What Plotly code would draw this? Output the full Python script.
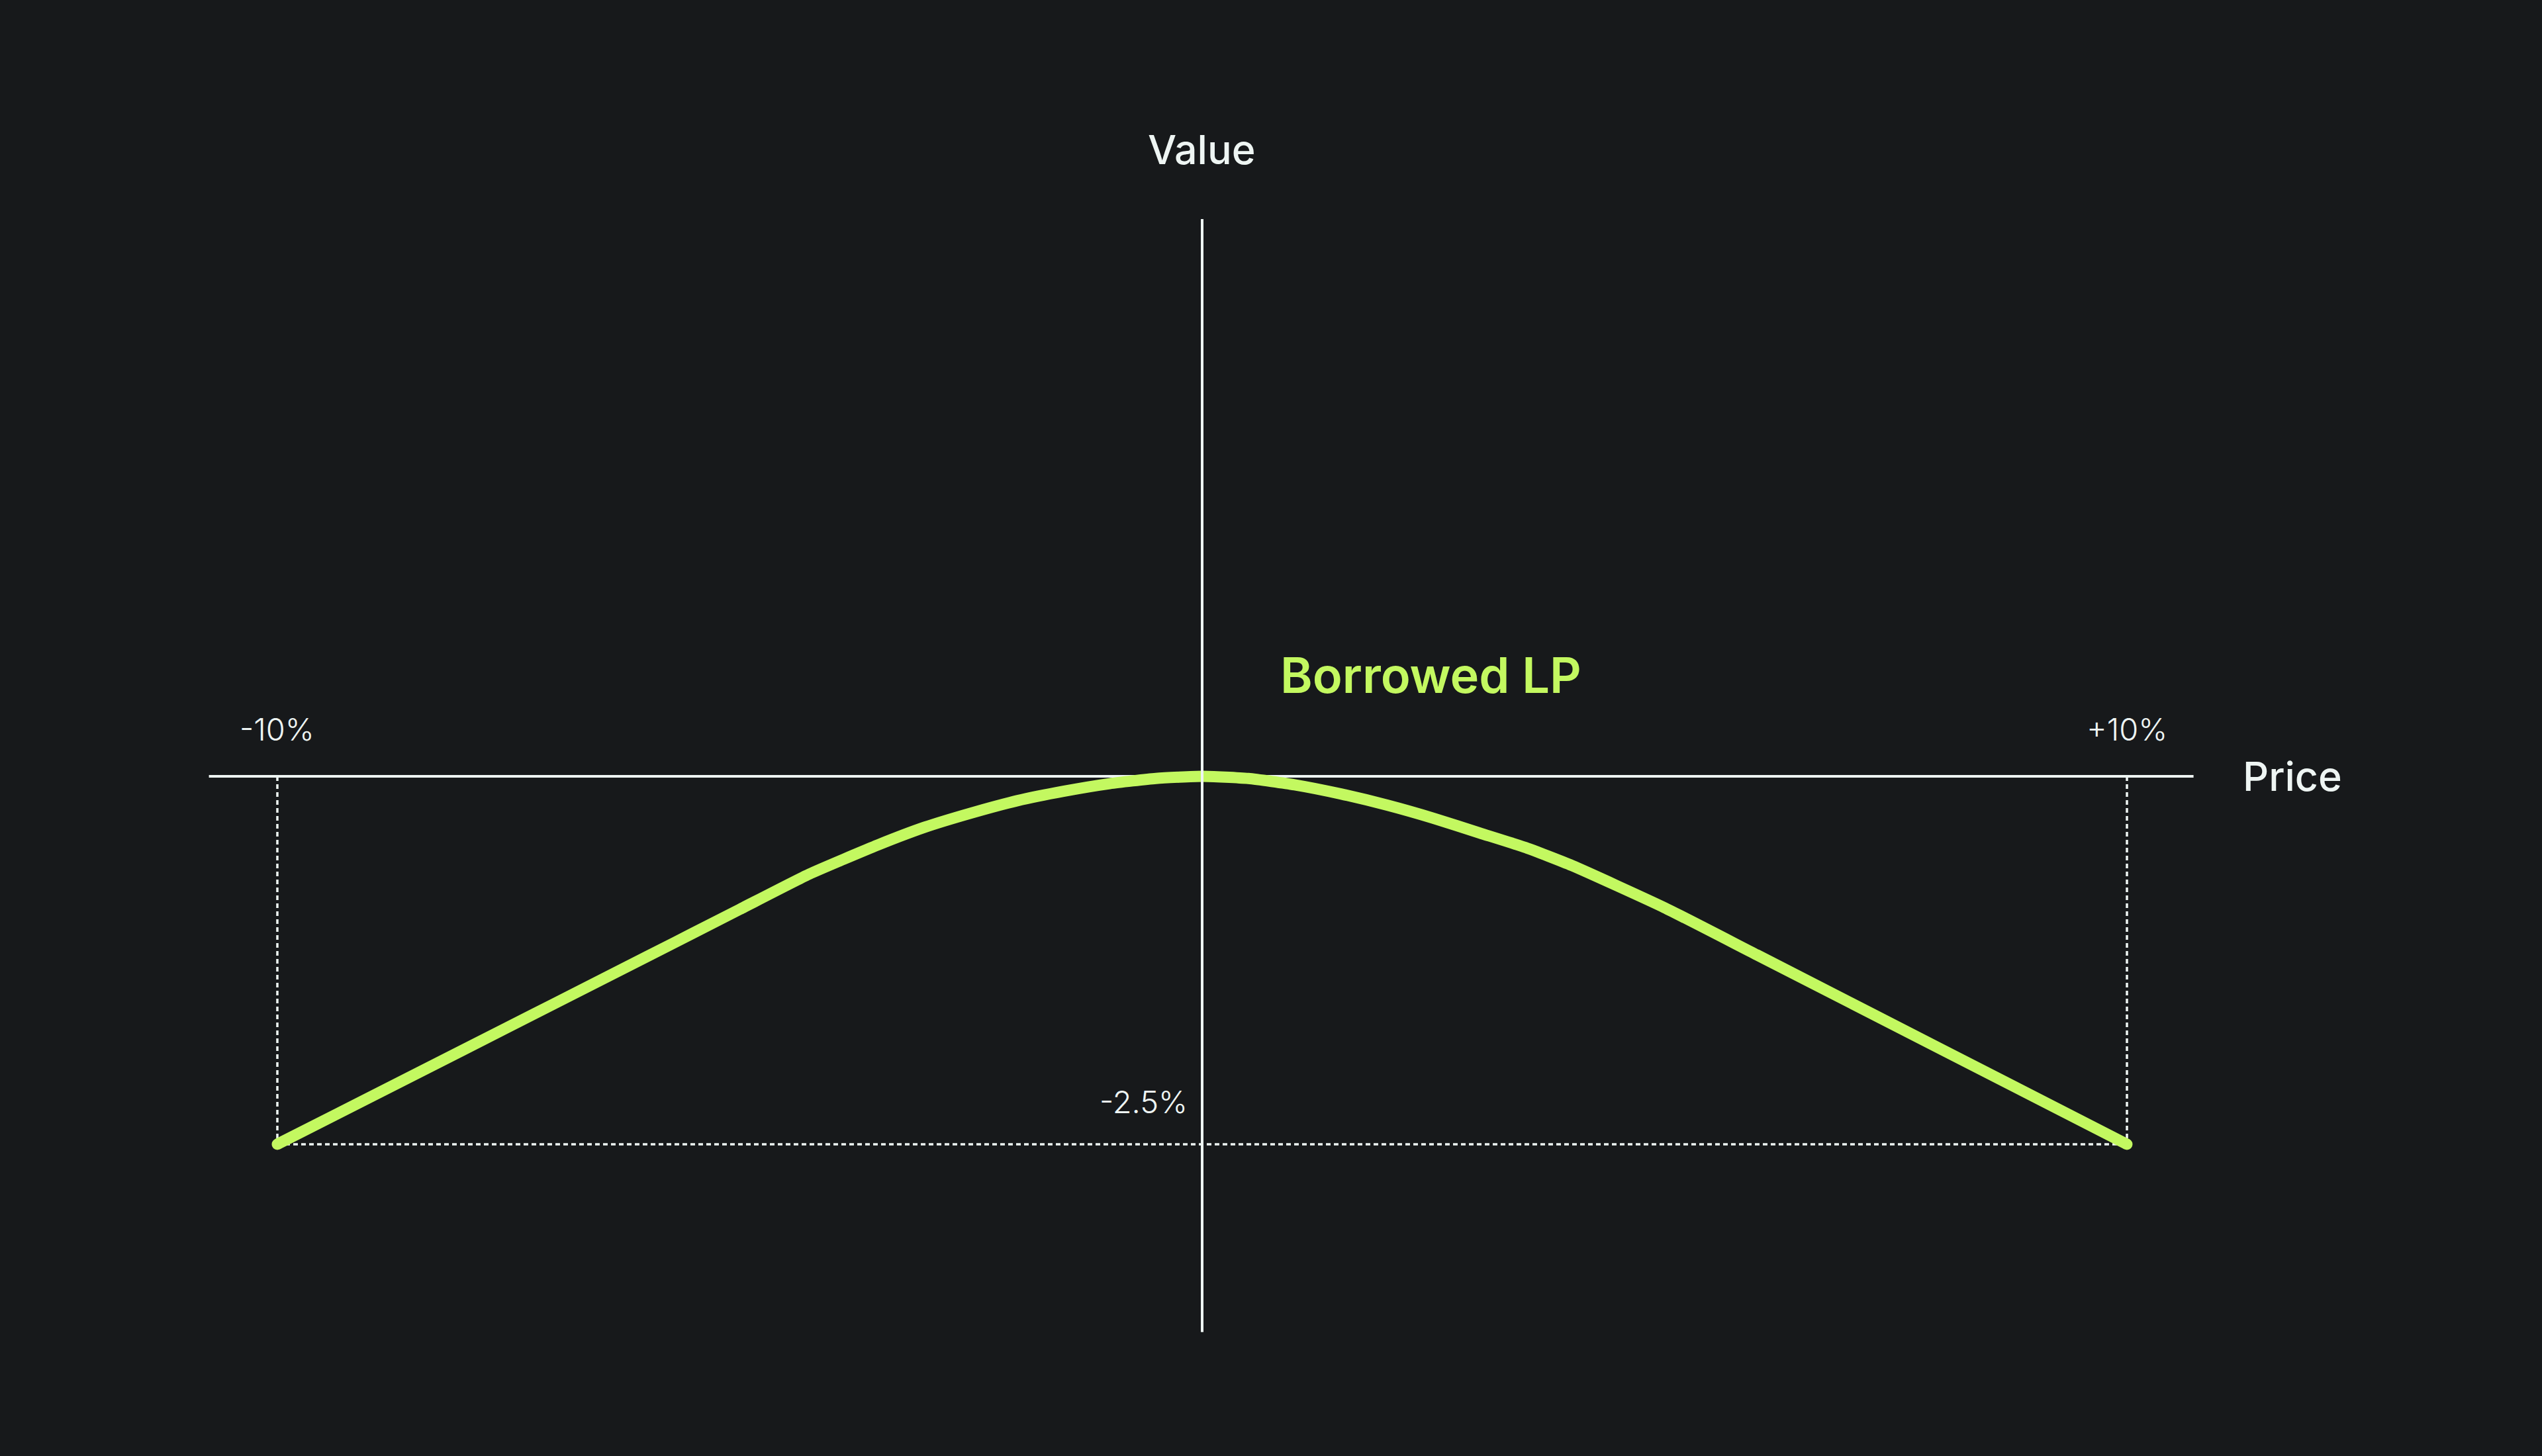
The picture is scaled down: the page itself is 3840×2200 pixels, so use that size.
import plotly.graph_objects as go

# price move (%) vs value change (%) of the borrowed LP position
price = [-10, -8, -6, -5, -4.25, -3.5, -3, -2.5, -2, -1.5, -1, -0.5, 0,
         0.5, 1, 1.5, 2, 2.5, 3, 3.5, 4, 5, 6, 8, 10]
value = [-2.5, -1.862, -1.224, -0.904, -0.665, -0.465, -0.346, -0.25, -0.166, -0.102, -0.05, -0.015, 0,
         -0.015, -0.058, -0.12, -0.196, -0.285, -0.385, -0.485, -0.607, -0.893, -1.214, -1.857, -2.5]

range_labels = ["-10%", "+10%"]
range_x = [-10, 10]
min_label = "-2.5%"
min_value = -2.5

bg = "#17191b"
lime = "#c3f860"
ink = "#eef5f3"
font_main = "Inter"

fig = go.Figure()

fig.add_trace(go.Scatter(
    x=price, y=value, mode="lines",
    line=dict(color=lime, width=17, shape="spline", smoothing=0.5),
    hoverinfo="skip", showlegend=False,
))
# round the line ends
fig.add_trace(go.Scatter(
    x=[price[0], price[-1]], y=[value[0], value[-1]], mode="markers",
    marker=dict(color=lime, size=17, line=dict(width=0)),
    hoverinfo="skip", showlegend=False,
))

dotted = dict(color=ink, width=3.5, dash="7px,5px")
for xv in range_x:
    fig.add_shape(type="line", x0=xv, x1=xv, y0=0, y1=min_value, line=dotted, layer="below")
fig.add_shape(type="line", x0=range_x[0], x1=range_x[1], y0=min_value, y1=min_value,
              line=dotted, layer="below")

# axes
fig.add_shape(type="line", x0=-10.74, x1=10.72, y0=0, y1=0,
              line=dict(color=ink, width=4), layer="below")
fig.add_shape(type="line", x0=0, x1=0, y0=3.786, y1=-3.776,
              line=dict(color=ink, width=4), layer="above")

# labels
fig.add_annotation(x=0, y=4.258, text="Value", showarrow=False,
                   font=dict(family=font_main, size=61, color=ink, weight=500))
fig.add_annotation(x=11.24, y=0, text="Price", showarrow=False, xanchor="left",
                   font=dict(family=font_main, size=61, color=ink, weight=500))
fig.add_annotation(x=0.83, y=0.688, text="Borrowed LP", showarrow=False, xanchor="left",
                   font=dict(family=font_main, size=74, color=lime, weight=600))
for xv, lab in zip(range_x, range_labels):
    fig.add_annotation(x=xv, y=0.32, text=lab, showarrow=False,
                       font=dict(family=font_main, size=47, color=ink, weight=300))
fig.add_annotation(x=-0.637, y=-2.208, text=min_label, showarrow=False,
                   font=dict(family=font_main, size=47, color=ink, weight=300))

fig.update_xaxes(range=[-12.999, 14.488], visible=False)
fig.update_yaxes(range=[-4.618, 5.274], visible=False)
fig.update_layout(
    width=3840, height=2200,
    margin=dict(l=0, r=0, t=0, b=0),
    paper_bgcolor=bg, plot_bgcolor=bg,
)

fig.write_html(
    "out.html",
    config={"displayModeBar": False},
    post_script="document.body.style.margin='0';document.body.style.background='%s';" % bg,
)
